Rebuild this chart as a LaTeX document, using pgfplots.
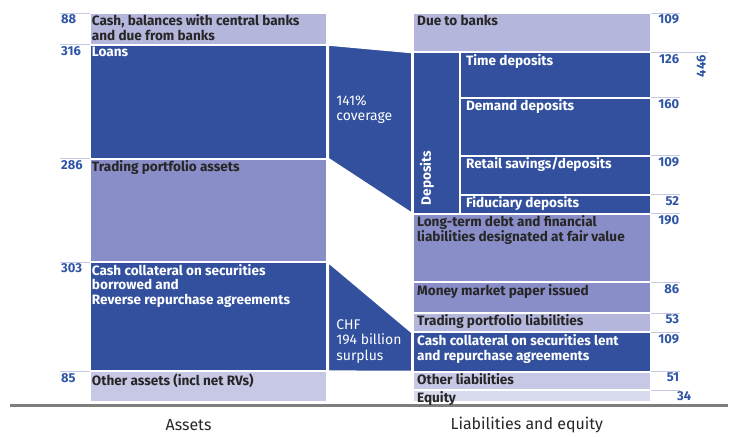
\documentclass[border=0pt]{standalone}
\usepackage{pgfplots}
\pgfplotsset{compat=1.18}
\usepackage{fontspec}
\setmainfont{Fira Sans}
\definecolor{dkblue}{HTML}{32509E}
\definecolor{medblue}{HTML}{8A8EC8}
\definecolor{ltblue}{HTML}{B4B6DC}
\definecolor{paleblue}{HTML}{C6C8E6}
\definecolor{palest}{HTML}{D8DAEE}
\definecolor{numblue}{HTML}{2E55A5}
\definecolor{txt}{HTML}{262626}
\definecolor{rulec}{HTML}{C5C8E6}
\definecolor{basec}{HTML}{7E7E7E}
\tikzset{
  lbl/.style={anchor=north west, inner sep=0pt, align=left, font=\fontsize{13.6}{15}\selectfont\bfseries},
  numl/.style={anchor=north west, inner sep=0pt, text=numblue, font=\fontsize{13}{15}\selectfont\bfseries},
  numr/.style={anchor=north east, inner sep=0pt, text=numblue, font=\fontsize{13}{15}\selectfont\bfseries},
}
\begin{document}
\begin{tikzpicture}
\begin{axis}[scale only axis, width=730pt, height=438pt,
  xmin=0, xmax=730, ymin=-35.93, ymax=1174.68, y dir=reverse,
  axis lines=none, clip=false,
]
% ---------- Assets (CHF bn): 88, 316, 286, 303, 85 ----------
\addplot[fill=ltblue, draw=white, line width=2pt] coordinates {(90,0) (328,0) (328,88) (90,88) (90,0)};
\addplot[fill=dkblue, draw=white, line width=2pt] coordinates {(90,88) (328,88) (328,404) (90,404) (90,88)};
\addplot[fill=medblue, draw=white, line width=2pt] coordinates {(90,404) (328,404) (328,690) (90,690) (90,404)};
\addplot[fill=dkblue, draw=white, line width=2pt] coordinates {(90,690) (328,690) (328,993) (90,993) (90,690)};
\addplot[fill=paleblue, draw=white, line width=2pt] coordinates {(90,993) (328,993) (328,1078) (90,1078) (90,993)};
% ---------- Connectors ----------
\addplot[fill=dkblue, draw=white, line width=2pt] coordinates {(329,88) (413,109) (413,556) (329,404) (329,88)};
\addplot[fill=dkblue, draw=white, line width=2pt] coordinates {(329,690) (413,885) (413,994) (329,993) (329,690)};
% ---------- Liabilities and equity: 109, 446 (126,160,109,52), 190, 86, 53, 109, 51, 34 ----------
\addplot[fill=ltblue, draw=white, line width=2pt] coordinates {(414,0) (653,0) (653,109) (414,109) (414,0)};
\addplot[fill=dkblue, draw=white, line width=2pt] coordinates {(414,109) (653,109) (653,556) (414,556) (414,109)};
\addplot[draw=white, line width=2pt] coordinates {(461,109) (461,556)};
\addplot[draw=white, line width=2pt] coordinates {(461,235) (653,235)};
\addplot[draw=white, line width=2pt] coordinates {(461,395) (653,395)};
\addplot[draw=white, line width=2pt] coordinates {(461,504) (653,504)};
\addplot[fill=medblue, draw=white, line width=2pt] coordinates {(414,556) (653,556) (653,746) (414,746) (414,556)};
\addplot[fill=medblue, draw=white, line width=2pt] coordinates {(414,746) (653,746) (653,832) (414,832) (414,746)};
\addplot[fill=ltblue, draw=white, line width=2pt] coordinates {(414,832) (653,832) (653,885) (414,885) (414,832)};
\addplot[fill=dkblue, draw=white, line width=2pt] coordinates {(414,885) (653,885) (653,994) (414,994) (414,885)};
\addplot[fill=paleblue, draw=white, line width=2pt] coordinates {(414,994) (653,994) (653,1045) (414,1045) (414,994)};
\addplot[fill=palest, draw=white, line width=2pt] coordinates {(414,1045) (653,1045) (653,1079) (414,1079) (414,1045)};
% ---------- thin cell rules ----------
\addplot[rulec, line width=0.8pt] coordinates {(60,0) (90,0)};
\addplot[rulec, line width=0.8pt] coordinates {(60,88) (90,88)};
\addplot[rulec, line width=0.8pt] coordinates {(60,404) (90,404)};
\addplot[rulec, line width=0.8pt] coordinates {(60,690) (90,690)};
\addplot[rulec, line width=0.8pt] coordinates {(60,993) (90,993)};
\addplot[rulec, line width=0.8pt] coordinates {(653,0) (682,0)};
\addplot[rulec, line width=0.8pt] coordinates {(653,109) (710,109)};
\addplot[rulec, line width=0.8pt] coordinates {(653,235) (682,235)};
\addplot[rulec, line width=0.8pt] coordinates {(653,395) (682,395)};
\addplot[rulec, line width=0.8pt] coordinates {(653,504) (682,504)};
\addplot[rulec, line width=0.8pt] coordinates {(653,556) (682,556)};
\addplot[rulec, line width=0.8pt] coordinates {(653,746) (682,746)};
\addplot[rulec, line width=0.8pt] coordinates {(653,832) (682,832)};
\addplot[rulec, line width=0.8pt] coordinates {(653,885) (682,885)};
\addplot[rulec, line width=0.8pt] coordinates {(653,994) (682,994)};
\addplot[rulec, line width=0.8pt] coordinates {(653,1045) (682,1045)};
% ---------- baseline ----------
\addplot[basec, line width=3.5pt] coordinates {(10,1087) (730,1087)};
% ---------- asset labels ----------
\node[lbl, text=txt] at (axis cs:92,5) {Cash, balances with central banks\\and due from banks};
\node[lbl, text=white] at (axis cs:92,93) {Loans};
\node[lbl, text=txt] at (axis cs:92,409) {Trading portfolio assets};
\node[lbl, text=white] at (axis cs:92,695) {Cash collateral on securities\\borrowed and\\Reverse repurchase agreements};
\node[lbl, text=txt] at (axis cs:92,998) {Other assets (incl net RVs)};
\node[numl] at (axis cs:61,5) {88};
\node[numl] at (axis cs:61,93) {316};
\node[numl] at (axis cs:61,409) {286};
\node[numl] at (axis cs:61,695) {303};
\node[numl] at (axis cs:61,998) {85};
% ---------- connector labels ----------
\node[anchor=north west, inner sep=0pt, align=left, text=white, font=\fontsize{14}{16}\selectfont] at (axis cs:337,227) {141\%\\coverage};
\node[anchor=north west, inner sep=0pt, align=left, text=white, font=\fontsize{14}{16}\selectfont] at (axis cs:337,848) {CHF\\194 billion\\surplus};
% ---------- liability labels ----------
\node[lbl, text=white, rotate=90, anchor=west] at (axis cs:428,533) {Deposits};
\node[lbl, text=txt] at (axis cs:418,5) {Due to banks};
\node[lbl, text=white] at (axis cs:467,114) {Time deposits};
\node[lbl, text=white] at (axis cs:467,240) {Demand deposits};
\node[lbl, text=white] at (axis cs:467,400) {Retail savings/deposits};
\node[lbl, text=white] at (axis cs:467,507) {Fiduciary deposits};
\node[lbl, text=txt] at (axis cs:418,561) {Long-term debt and financial\\liabilities designated at fair value};
\node[lbl, text=txt] at (axis cs:418,752) {Money market paper issued};
\node[lbl, text=txt] at (axis cs:418,836) {Trading portfolio liabilities};
\node[lbl, text=white] at (axis cs:418,890) {Cash collateral on securities lent\\and repurchase agreements};
\node[lbl, text=txt] at (axis cs:418,997) {Other liabilities};
\node[lbl, text=txt] at (axis cs:418,1048) {Equity};
\node[numr] at (axis cs:681,5) {109};
\node[numr] at (axis cs:681,114) {126};
\node[numr] at (axis cs:681,240) {160};
\node[numr] at (axis cs:681,400) {109};
\node[numr] at (axis cs:681,507) {52};
\node[numr] at (axis cs:681,561) {190};
\node[numr] at (axis cs:681,752) {86};
\node[numr] at (axis cs:681,836) {53};
\node[numr] at (axis cs:681,890) {109};
\node[numr] at (axis cs:681,997) {51};
\node[numr] at (axis cs:693,1048) {34};
\node[inner sep=0pt, text=numblue, rotate=90, anchor=east, font=\fontsize{13}{15}\selectfont\bfseries] at (axis cs:703,116) {446};
% ---------- axis captions ----------
\node[text=txt, font=\fontsize{16}{18}\selectfont] at (axis cs:189,1141) {Assets};
\node[text=txt, font=\fontsize{16}{18}\selectfont] at (axis cs:528,1141) {Liabilities and equity};
\end{axis}
\path[use as bounding box] (current axis.south west) rectangle (current axis.north east);
\end{tikzpicture}
\end{document}
